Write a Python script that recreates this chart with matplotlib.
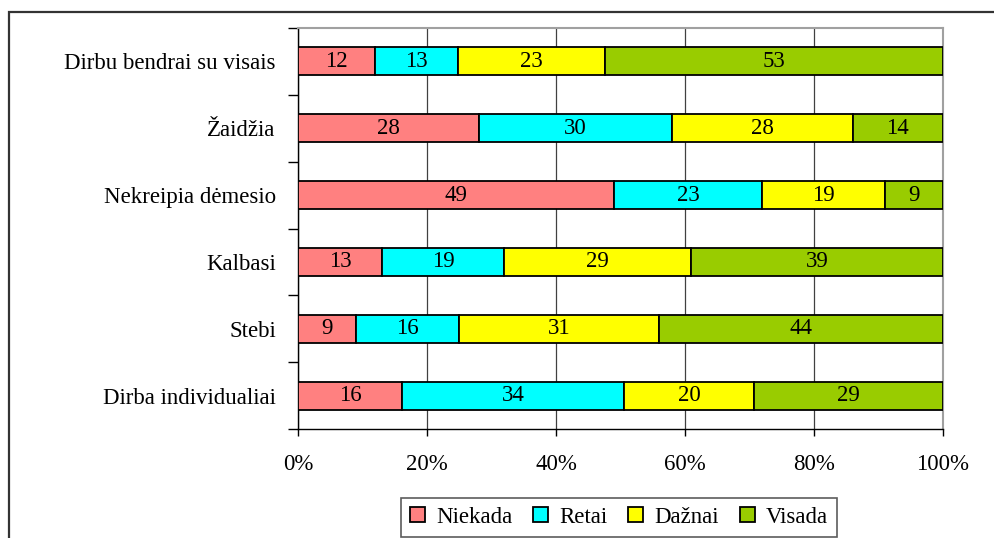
import numpy as np
import matplotlib
matplotlib.use('Agg')
import matplotlib.pyplot as plt
from matplotlib.patches import Rectangle

plt.rcParams['font.family'] = ['Liberation Serif', 'DejaVu Serif']

# kategorijos (is apacios i virsu)
categories = ['Dirba individualiai', 'Stebi', 'Kalbasi', 'Nekreipia dėmesio', 'Žaidžia',
              'Dirbu bendrai su visais']
series_names = ['Niekada', 'Retai', 'Dažnai', 'Visada']
niekada = [16, 9, 13, 49, 28, 12]
retai = [34, 16, 19, 23, 30, 13]
daznai = [20, 31, 29, 19, 28, 23]
visada = [29, 44, 39, 9, 14, 53]
colors = ['#FF8080', '#00FFFF', '#FFFF00', '#99CC00']
x_ticks = [0, 20, 40, 60, 80, 100]

FS = 16.5
W, H = 994, 538
fig = plt.figure(figsize=(W / 100, H / 100), dpi=100)
ax = fig.add_axes([298 / W, 1 - 429 / H, (943 - 298) / W, (429 - 28) / H])

# remelis aplink visa paveiksla
fig.patches.append(Rectangle((9 / W, -0.1), 1.2, 1 - 12 / H + 0.1, transform=fig.transFigure,
                             fill=False, edgecolor='#333333', linewidth=1.6, clip_on=False))

data = np.array([niekada, retai, daznai, visada], dtype=float)
totals = data.sum(axis=0)
pct = data / totals * 100
y = np.arange(len(categories))
left = np.zeros(len(categories))
for i, name in enumerate(series_names):
    ax.barh(y, pct[i], left=left, height=0.42, color=colors[i], edgecolor='black',
            linewidth=1.3, label=name, zorder=3)
    for j in range(len(categories)):
        ax.text(left[j] + pct[i][j] / 2, y[j], str(int(data[i][j])), ha='center', va='center',
                fontsize=FS, zorder=4)
    left += pct[i]

ax.set_xlim(0, 100)
ax.set_ylim(-0.5, len(categories) - 0.5)
ax.set_xticks(x_ticks)
ax.set_xticklabels([f'{v}%' for v in x_ticks], fontsize=FS)
ax.set_yticks(y)
ax.set_yticklabels(categories, fontsize=FS)
ax.set_yticks(np.arange(-0.5, len(categories)), minor=True)
ax.tick_params(axis='y', which='major', length=0, pad=16)
ax.tick_params(axis='y', which='minor', length=7, width=1, color='black', direction='out')
ax.tick_params(axis='x', length=5, width=1, direction='out', pad=13)
ax.grid(axis='x', color='#404040', linewidth=0.9, zorder=0)
for s in ['top', 'right']:
    ax.spines[s].set_color('#A0A0A0')
    ax.spines[s].set_linewidth(1.5)
for s in ['left', 'bottom']:
    ax.spines[s].set_color('black')
    ax.spines[s].set_linewidth(1.0)

leg = fig.legend(loc='lower center', bbox_to_anchor=(619 / W, 1 - 537 / H), ncol=4, fontsize=FS,
                 frameon=True, fancybox=False, edgecolor='#333333', handlelength=0.65,
                 handleheight=0.65, handletextpad=0.5, columnspacing=0.9, borderpad=0.4,
                 borderaxespad=0)
leg.get_frame().set_linewidth(1.2)

fig.savefig('out.png', dpi=100)
